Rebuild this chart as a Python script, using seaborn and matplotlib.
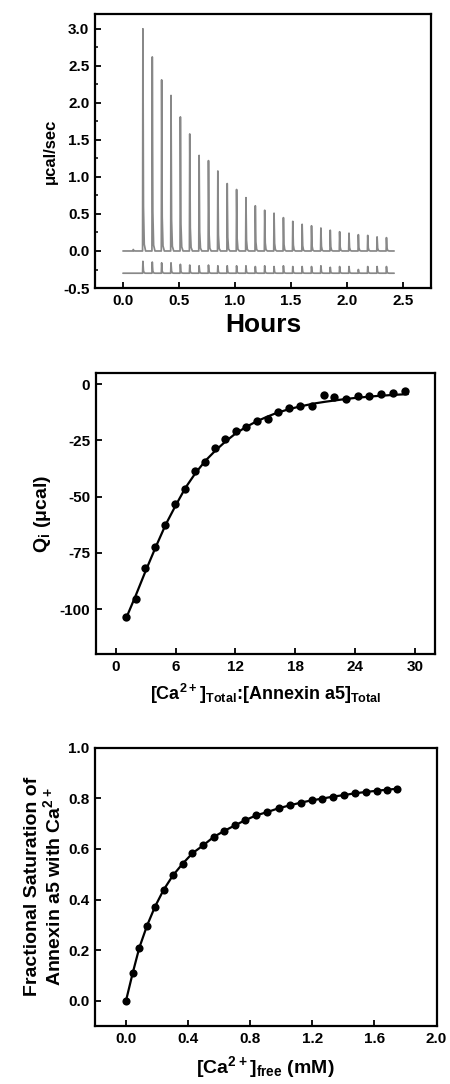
import numpy as np
import pandas as pd
import matplotlib
matplotlib.use("Agg")
import matplotlib.pyplot as plt
from matplotlib.ticker import MultipleLocator, FormatStrFormatter
import seaborn as sns

# ---------------- data ----------------
# Panel 1: ITC raw trace (injection times in hours, peak heights in ucal/sec)
inj_times = [0.176 + 0.0836 * i for i in range(27)]
peak_heights = [3.00, 2.62, 2.31, 2.10, 1.81, 1.58, 1.29, 1.22, 1.08, 0.91,
                0.83, 0.72, 0.61, 0.55, 0.51, 0.45, 0.40, 0.36, 0.34, 0.31,
                0.28, 0.26, 0.24, 0.22, 0.21, 0.19, 0.18]
ref_heights = [0.16, 0.15, 0.14, 0.14, 0.12, 0.11, 0.10, 0.11, 0.10, 0.10,
               0.10, 0.10, 0.09, 0.10, 0.09, 0.10, 0.09, 0.09, 0.09, 0.10,
               0.08, 0.09, 0.09, 0.05, 0.09, 0.09, 0.09]
trace_start, trace_end = 0.0, 2.42
sample_base, ref_base = 0.0, -0.30

# Panel 2: integrated heats
ratio = [1.0, 2.0, 2.97, 3.94, 4.94, 5.94, 6.94, 7.96, 8.97, 9.97, 11.0, 12.07,
         13.1, 14.2, 15.3, 16.3, 17.4, 18.5, 19.7, 20.9, 21.9, 23.1, 24.3, 25.4,
         26.6, 27.8, 29.0]
q_heat = [-103.7, -95.5, -81.8, -72.6, -62.6, -53.3, -46.6, -38.8, -34.4, -28.3,
          -24.4, -20.7, -19.0, -16.4, -15.5, -12.2, -10.6, -9.7, -9.5, -4.6,
          -5.5, -6.7, -5.1, -5.4, -4.2, -4.0, -3.1]
fit_x = [1.0, 2.0, 3.0, 4.0, 5.0, 6.0, 7.0, 8.0, 9.0, 10.0, 11.0, 12.0, 13.0,
         14.0, 15.0, 16.0, 17.0, 18.0, 19.0, 20.0, 21.0, 22.0, 23.0, 24.0, 25.0,
         26.0, 27.0, 28.0, 29.3]
q_fit = [-104.5, -94.0, -83.0, -72.5, -62.5, -54.0, -46.0, -39.5, -34.0, -29.5,
         -25.5, -22.0, -19.2, -16.8, -14.8, -13.0, -11.6, -10.4, -9.4, -8.5,
         -7.8, -7.2, -6.6, -6.1, -5.7, -5.3, -5.0, -4.7, -4.4]

# Panel 3: fractional saturation
ca_free = [0.0, 0.043, 0.086, 0.135, 0.187, 0.242, 0.302, 0.364, 0.428, 0.497,
           0.564, 0.632, 0.701, 0.769, 0.840, 0.911, 0.984, 1.054, 1.125, 1.196,
           1.265, 1.335, 1.406, 1.475, 1.544, 1.614, 1.680, 1.747]
frac_sat = [0.0, 0.109, 0.210, 0.296, 0.372, 0.438, 0.495, 0.541, 0.583, 0.614,
            0.647, 0.671, 0.693, 0.714, 0.733, 0.746, 0.761, 0.772, 0.783, 0.792,
            0.799, 0.807, 0.813, 0.820, 0.825, 0.830, 0.834, 0.838]

# ---------------- style ----------------
sns.set_style("ticks")
plt.rcParams['font.family'] = ['Liberation Sans', 'DejaVu Sans']
plt.rcParams['font.weight'] = 'bold'
plt.rcParams['axes.labelweight'] = 'bold'
plt.rcParams['axes.unicode_minus'] = False
plt.rcParams['text.color'] = 'black'
plt.rcParams['axes.labelcolor'] = 'black'
plt.rcParams['xtick.color'] = 'black'
plt.rcParams['ytick.color'] = 'black'
plt.rcParams['mathtext.fontset'] = 'custom'
plt.rcParams['mathtext.rm'] = 'Liberation Sans:bold'
plt.rcParams['mathtext.bf'] = 'Liberation Sans:bold'
plt.rcParams['mathtext.default'] = 'bf'

fig = plt.figure(figsize=(4.5, 10.84), dpi=100)
ax1 = fig.add_axes([0.211, 0.7343, 0.747, 0.2528])
ax2 = fig.add_axes([0.213, 0.3967, 0.753, 0.2592])
ax3 = fig.add_axes([0.211, 0.0535, 0.759, 0.2567])


def spike_trace(times, heights, base, start, end):
    xs, ys = [start], [base]
    for t, h in zip(times, heights):
        xs += [t - 0.001, t + 0.002, t + 0.007, t + 0.014, t + 0.026]
        ys += [base, base + h, base + 0.2 * h, base + 0.03 * h, base]
    xs.append(end)
    ys.append(base)
    return pd.DataFrame({"t": xs, "y": ys})


grey = "#888888"
tr1 = spike_trace([0.09] + inj_times, [0.02] + peak_heights, sample_base, trace_start, trace_end)
tr2 = spike_trace(inj_times, ref_heights, ref_base, trace_start, trace_end)
sns.lineplot(data=tr1, x="t", y="y", sort=False, estimator=None, color=grey, lw=1.25, ax=ax1)
sns.lineplot(data=tr2, x="t", y="y", sort=False, estimator=None, color=grey, lw=1.25, ax=ax1)
ax1.set_xlim(-0.25, 2.75)
ax1.set_ylim(-0.5, 3.2)
ax1.xaxis.set_major_locator(MultipleLocator(0.5))
ax1.yaxis.set_major_locator(MultipleLocator(0.5))
ax1.yaxis.set_minor_locator(MultipleLocator(0.25))
ax1.set_xlabel("Hours", fontsize=19, labelpad=4)
ax1.set_ylabel("μcal/sec", fontsize=12, labelpad=4)

# panel 2
sns.lineplot(x=fit_x, y=q_fit, color="black", lw=1.6, ax=ax2)
sns.scatterplot(x=ratio, y=q_heat, color="black", s=36, linewidth=0, ax=ax2, zorder=3)
ax2.set_xlim(-2, 32)
ax2.set_ylim(-120, 5)
ax2.xaxis.set_major_locator(MultipleLocator(6))
ax2.yaxis.set_major_locator(MultipleLocator(25))
ax2.set_xlabel(r"[Ca$^{2+}$]$_{\mathrm{Total}}$:[Annexin a5]$_{\mathrm{Total}}$", fontsize=13, labelpad=6)
ax2.set_ylabel(r"Q$_{\mathrm{i}}$ (μcal)", fontsize=14, labelpad=5)

# panel 3
sns.lineplot(x=ca_free, y=frac_sat, color="black", lw=1.6, ax=ax3)
sns.scatterplot(x=ca_free, y=frac_sat, color="black", s=34, linewidth=0, ax=ax3, zorder=3)
ax3.set_xlim(-0.2, 2.0)
ax3.set_ylim(-0.1, 1.0)
ax3.xaxis.set_major_locator(MultipleLocator(0.4))
ax3.yaxis.set_major_locator(MultipleLocator(0.2))
ax3.set_xlabel(r"[Ca$^{2+}$]$_{\mathrm{free}}$ (mM)", fontsize=14, labelpad=6)
ax3.set_ylabel("Fractional Saturation of\n" + r"Annexin a5 with Ca$^{2+}$", fontsize=14, labelpad=3,
               linespacing=1.05)

for ax in (ax1, ax2, ax3):
    for sp in ax.spines.values():
        sp.set_visible(True)
        sp.set_linewidth(1.6)
        sp.set_color("black")
    ax.tick_params(which="major", direction="in", length=4, width=1.3, labelsize=11,
                   colors="black", pad=4)
    ax.tick_params(which="minor", direction="in", length=2.5, width=1.1)
    for lbl in ax.get_xticklabels() + ax.get_yticklabels():
        lbl.set_fontweight("bold")
    ax.grid(False)

ax1.xaxis.set_major_formatter(FormatStrFormatter("%.1f"))
ax1.yaxis.set_major_formatter(FormatStrFormatter("%.1f"))
ax3.xaxis.set_major_formatter(FormatStrFormatter("%.1f"))
ax3.yaxis.set_major_formatter(FormatStrFormatter("%.1f"))

fig.savefig("out.png", dpi=100, facecolor="white")
